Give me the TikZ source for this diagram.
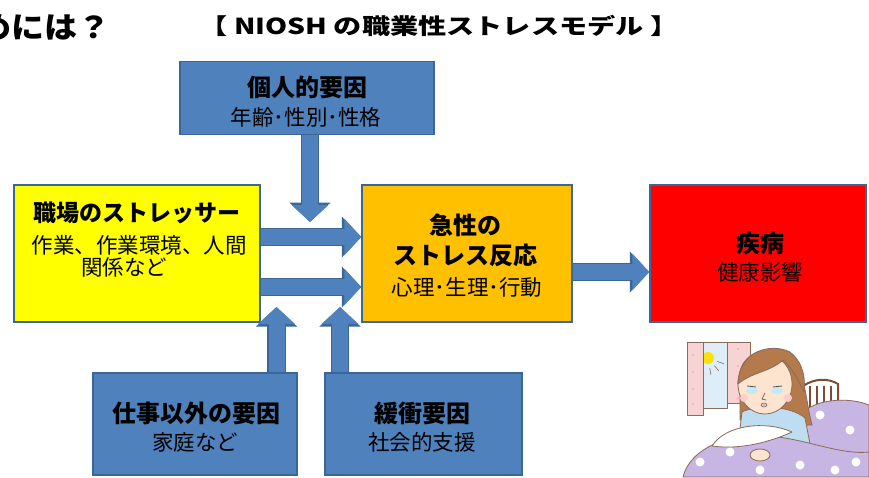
\documentclass[tikz,border=0pt]{standalone}
\usepackage{fontspec}
\setmainfont{Noto Sans CJK JP}
\usetikzlibrary{arrows.meta,calc}

\definecolor{boxblue}{HTML}{4F81BD}
\definecolor{edgeblue}{HTML}{3A6797}
\definecolor{strsyellow}{HTML}{FFFF00}
\definecolor{acuteorange}{HTML}{FFC000}
\definecolor{illred}{HTML}{FF0000}
\definecolor{curtainpink}{HTML}{F8D3D3}
\definecolor{glassblue}{HTML}{DDEEF8}
\definecolor{bedbrown}{HTML}{7A4E36}
\definecolor{hairbrown}{HTML}{B57A4B}
\definecolor{skin}{HTML}{FCE4CF}
\definecolor{pajama}{HTML}{BEDDF1}
\definecolor{quilt}{HTML}{C7B5E3}
\definecolor{lineart}{HTML}{8A6A5A}

\tikzset{
  factor/.style={draw=edgeblue, line width=1.5pt, fill=boxblue, inner sep=0pt},
  plainbox/.style={draw=edgeblue, line width=1.5pt, inner sep=0pt},
  headtxt/.style={font=\bfseries\fontsize{24}{28}\selectfont, inner sep=0pt},
  subtxt/.style={font=\fontsize{21.5}{25}\selectfont, inner sep=0pt},
  flow/.style={draw=boxblue, line width=16pt, -{Triangle[length=17pt,width=36pt]},
    preaction={draw=edgeblue, line width=18.5pt, -{Triangle[length=19.5pt,width=40pt]}}},
  art/.style={draw=lineart, line width=0.8pt, line join=round},
}

\begin{document}
\begin{tikzpicture}[x=1pt, y=-1pt]
  \useasboundingbox (0,0) rectangle (869,477);

  \node[anchor=east, font=\bfseries\fontsize{30}{34}\selectfont, inner sep=0pt] (lead) at (111,27) {\scalebox{1.1}[1]{めには？}};
  \node[font=\bfseries\fontsize{22}{26}\selectfont, inner sep=0pt] (title) at (439,26) {\scalebox{1.28}[1]{【 NIOSH の職業性ストレスモデル 】}};

  % boxes
  \node[factor, minimum width=254, minimum height=73] (indiv) at (307,98) {};
  \node[plainbox, fill=strsyellow, minimum width=246, minimum height=137] (stressor) at (137,253.5) {};
  \node[plainbox, fill=acuteorange, minimum width=210, minimum height=137] (acute) at (467,253.5) {};
  \node[plainbox, fill=illred, minimum width=216, minimum height=137] (illness) at (758,253.5) {};
  \node[factor, minimum width=204, minimum height=102] (home) at (195,424) {};
  \node[factor, minimum width=197, minimum height=102] (buffer) at (423.5,424) {};

  % texts
  \node[headtxt] (indiv-h) at (307,87) {個人的要因};
  \node[subtxt] (indiv-s) at (306,117) {年齢･性別･性格};
  \node[headtxt, font=\bfseries\fontsize{23}{27}\selectfont] (stressor-h) at (137,213) {職場のストレッサー};
  \node[subtxt] (stressor-s) at (139,245) {作業、作業環境、人間};
  \node[subtxt] (stressor-t) at (124,267) {関係など};
  \node[headtxt] (acute-h) at (465,225) {急性の};
  \node[headtxt] (acute-s) at (465,255) {ストレス反応};
  \node[subtxt] (acute-t) at (467,287) {心理･生理･行動};
  \node[headtxt] (illness-h) at (760,243) {疾病};
  \node[subtxt] (illness-s) at (760,272) {健康影響};
  \node[headtxt] (home-h) at (196,413) {仕事以外の要因};
  \node[subtxt] (home-s) at (195,442) {家庭など};
  \node[headtxt] (buffer-h) at (422,413) {緩衝要因};
  \node[subtxt] (buffer-s) at (422,442) {社会的支援};

  % arrows
  \coordinate (indiv-in) at (310,222);
  \coordinate (home-in) at (276.5,307);
  \coordinate (buffer-in) at (340,307);
  \draw[flow] (indiv.south -| indiv-in) -- (indiv-in);
  \draw[flow] ([yshift=16.5]stressor.east) -- ([yshift=16.5]acute.west);
  \draw[flow] ([yshift=-33.5]stressor.east) -- ([yshift=-33.5]acute.west);
  \draw[flow] ([yshift=-18.5]acute.east) -- ([yshift=-18.5]illness.west);
  \draw[flow] (home.north -| home-in) -- (home-in);
  \draw[flow] (buffer.north -| buffer-in) -- (buffer-in);

  % sick in bed
  \fill[glassblue, art] (703,342) rectangle (727,408);
  \fill[yellow!85!orange] (708,358) circle (6);
  \foreach \a in {20,50,80}
    \draw[lineart, line width=0.6pt] ($(708,358)+(\a:10)$) -- ($(708,358)+(\a:17)$);
  \fill[curtainpink, art] (687,342) rectangle (703,415);
  \fill[curtainpink, art] (727,342) rectangle (750,403);
  \foreach \y in {355,372,389,404}
    \fill[red!40] (693,\y) circle (0.8) (738,\y-6) circle (0.8);
  \draw[bedbrown, line width=2pt] (803,432) -- (803,386) .. controls (815,378) and (828,378) .. (838,384) -- (838,432);
  \foreach \x in {810,817,824,831}
    \draw[bedbrown, line width=1.6pt] (\x,386) -- (\x,430);
  \fill[quilt, art] (796,425) .. controls (800,400) and (845,395) .. (869,405) -- (869,465) -- (800,465) -- cycle;
  \fill[hairbrown, art] (740,372) .. controls (745,345) and (790,340) .. (800,368) .. controls (806,390) and (808,410) .. (812,425) -- (790,425) -- (740,420) -- cycle;
  \fill[pajama, art] (742,412) .. controls (755,405) and (790,405) .. (805,418) -- (815,470) -- (735,470) -- cycle;
  \fill[skin, art] (765,384) ellipse (27 and 30);
  \fill[hairbrown, art] (738,384) .. controls (738,352) and (770,342) .. (790,352) .. controls (800,360) and (806,372) .. (804,392) .. controls (796,375) and (790,366) .. (783,360) .. controls (770,372) and (752,372) .. (738,384) -- cycle;
  \fill[cyan!25] (752,391) ellipse (6 and 3) (777,391) ellipse (6 and 3);
  \fill[red!20] (744,398) circle (4) (788,398) circle (4);
  \draw[black!70, line width=0.8pt] (747,386) -- (756,387) (773,387) -- (782,386);
  \draw[black!70, line width=0.6pt] (765,393) -- (762,399) -- (766,400);
  \fill[red!30, draw=black!60, line width=0.5pt] (764,405) ellipse (3 and 2);
  \fill[quilt, art] (683,477) .. controls (690,448) and (730,432) .. (770,436) .. controls (810,440) and (840,455) .. (869,452) -- (869,477) -- cycle;
  \fill[white, art] (712,446) .. controls (725,425) and (765,420) .. (792,432) .. controls (770,442) and (740,450) .. (712,446) -- cycle;
  \fill[skin, art] (760,455) ellipse (10 and 6);
  \foreach \p in {(700,462),(730,452),(760,470),(800,465),(835,470),(856,462),(820,415),(850,430)}
    \fill[white] \p circle (4.5);
\end{tikzpicture}
\end{document}
